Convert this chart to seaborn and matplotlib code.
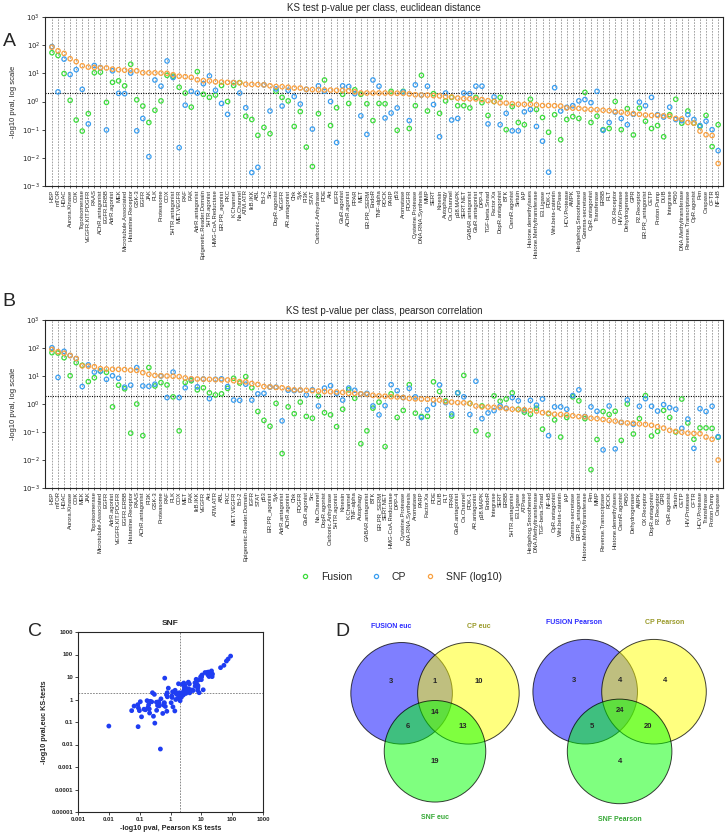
import pandas as pd
import seaborn as sns
import matplotlib
matplotlib.use("Agg")
from matplotlib import pyplot as plt
from matplotlib.patches import Circle
from matplotlib.lines import Line2D
from matplotlib.colors import to_rgba

# ---- panel A: euclidean distance, classes sorted by SNF ----
euc_classes = ["HSP", "mTOR", "HDAC", "Aurora.Kinase", "CDK", "Topoisomerase", "VEGFR.KIT.PDGFR", "RAAS", "AChR.antagonist", "EGFR.ERBB",
               "AdrR.agonist", "MEK", "Microtubule.Associated", "Histamine.Receptor", "GSK-3", "EGFR", "JAK", "PLK", "Proteasome", "COX",
               "5HTR.antagonist", "MET.VEGFR", "RAF", "FAK", "AdrR.antagonist", "Epigenetic.Reader.Domain", "5HTR.agonist", "HMG-CoA.Reductase", "ER.PR_agonist", "PKC",
               "K.Channel", "Na.Channel", "ATM.ATR", "IkB.IKK", "ABL", "Bcl-2", "Src", "DopR.agonist", "VEGFR", "AR.antagonist",
               "Chk", "Syk", "PI3K", "STAT", "Carbonic.Anhydrase", "PDE", "Akt", "IGFR", "GluR.agonist", "AChR.agonist",
               "PPAR", "MET", "ER.PR_SERM", "EndoR", "TNF-alpha", "ROCK", "PARP", "p53", "Aromatase", "PDGFR",
               "Cysteine.Protease", "DNA.RNA.Synthesis", "MMP", "SERT", "Kinesin", "Autophagy", "Ca.Channel", "p38.MAPK", "SERT.NET", "GABAR.antagonist",
               "GluR.antagonist", "DPP-4", "TGF-beta.Smad", "Factor.Xa", "DopR.antagonist", "BTK", "CannR.agonist", "Sirtuin", "IAP", "Histone.demethylases",
               "Histone.Methyltransferase", "E3.Ligase", "PDK-1", "Wnt.beta-catenin", "ATPase", "HCV.Protease", "AMPK", "Hedgehog.Smoothened", "Gamma-secretase", "OpR.antagonist",
               "Transferase", "ERBB", "FLT", "OX.Receptor", "HIV.Protease", "Dehydrogenase", "GPR", "P2.Receptor", "ER.PR_antagonist", "CETP",
               "Proton.Pump", "DUB", "Integrase", "P450", "DNA.Methyltransferase", "Reverse.Transcriptase", "OpR.agonist", "Pim", "Caspase", "CFTR",
               "NF-kB"]
euc_fusion = [54, 43, 9.8, 1.1, 0.22, 0.089, 0.37, 10.5, 11, 0.93,
              4.8, 5.4, 3.6, 21, 1.15, 0.69, 0.18, 0.49, 1.05, 8.5,
              7.9, 3.2, 2.0, 0.63, 11.5, 1.8, 1.4, 1.7, 3.7, 1.0,
              3.7, 4.7, 0.3, 0.23, 0.063, 0.12, 0.072, 2.3, 1.4, 1.05,
              0.13, 0.44, 0.024, 0.0049, 0.37, 5.8, 0.14, 0.6, 1.8, 0.85,
              2.6, 1.8, 0.83, 0.21, 0.85, 0.83, 2.3, 0.095, 2.3, 0.11,
              0.71, 8.5, 0.46, 1.9, 0.38, 1.05, 1.4, 0.71, 0.71, 0.59,
              1.4, 0.91, 0.32, 1.0, 1.4, 0.1, 0.66, 0.18, 0.15, 1.2,
              0.52, 0.27, 0.081, 0.34, 0.044, 0.23, 0.29, 0.25, 2.1, 0.18,
              0.3, 0.1, 0.11, 1.0, 0.1, 0.56, 0.065, 0.58, 0.2, 0.11,
              0.14, 0.056, 0.34, 1.2, 0.17, 0.46, 0.17, 0.13, 0.32, 0.025,
              0.15]
euc_cp = [89, 2.2, 32, 9.1, 13.5, 2.7, 0.16, 19, 16, 0.098,
          12.3, 1.95, 1.9, 10.2, 0.091, 0.25, 0.011, 5.8, 3.5, 27.5,
          7.1, 0.023, 0.74, 2.3, 2.0, 4.3, 8.1, 2.5, 0.85, 0.35,
          4.7, 2.0, 0.6, 0.003, 0.0046, 3.9, 0.46, 2.8, 0.69, 2.5,
          1.5, 0.81, 2.7, 0.105, 3.6, 2.3, 1.0, 0.035, 3.6, 3.4,
          1.9, 0.31, 0.068, 5.8, 3.5, 0.26, 0.39, 0.59, 2.2, 0.21,
          3.9, 1.7, 3.5, 0.78, 0.056, 2.0, 0.22, 0.25, 2.0, 1.9,
          3.5, 3.5, 0.16, 1.45, 0.15, 0.38, 0.091, 0.091, 0.43, 0.52,
          0.13, 0.039, 0.0031, 3.1, 0.46, 0.62, 0.71, 1.05, 1.17, 0.91,
          2.3, 0.095, 0.18, 0.42, 0.25, 0.15, 0.35, 0.95, 0.71, 1.4,
          0.34, 0.28, 0.63, 0.23, 0.21, 0.34, 0.23, 0.14, 0.2, 0.1,
          0.018]
euc_snf = [85, 63, 51, 33, 26, 18.6, 16.6, 16.2, 15.8, 15.5,
           14.1, 13.5, 12.9, 12.6, 12.3, 10.5, 10.4, 10.4, 10.2, 10.0,
           8.9, 7.9, 7.6, 7.2, 5.9, 5.5, 5.4, 5.0, 4.9, 4.8,
           4.7, 4.6, 4.1, 4.05, 4.0, 3.9, 3.6, 3.4, 3.35, 3.2,
           3.0, 3.0, 2.7, 2.65, 2.6, 2.57, 2.55, 2.5, 2.5, 2.4,
           2.2, 2.0, 2.0, 2.0, 2.0, 2.0, 1.98, 1.97, 1.96, 1.86,
           1.74, 1.70, 1.69, 1.62, 1.58, 1.48, 1.45, 1.32, 1.26, 1.25,
           1.23, 1.17, 1.07, 1.0, 0.89, 0.88, 0.83, 0.80, 0.79, 0.79,
           0.76, 0.72, 0.72, 0.71, 0.69, 0.59, 0.58, 0.57, 0.54, 0.52,
           0.51, 0.49, 0.47, 0.44, 0.42, 0.38, 0.37, 0.35, 0.33, 0.32,
           0.32, 0.31, 0.30, 0.25, 0.24, 0.18, 0.17, 0.089, 0.066, 0.062,
           0.0063]

# ---- panel B: pearson correlation ----
pea_classes = ["HSP", "mTOR", "HDAC", "Aurora.Kinase", "CDK", "MEK", "JAK", "Topoisomerase", "Microtubule.Associated", "EGFR",
               "AdrR.agonist", "VEGFR.KIT.PDGFR", "EGFR.ERBB", "Histamine.Receptor", "RAAS", "AChR.antagonist", "PI3K", "GSK-3", "Proteasome", "RAF",
               "PLK", "COX", "MET", "FAK", "IkB.IKK", "VEGFR", "Akt", "ATM.ATR", "ABL", "PKC",
               "MET.VEGFR", "Bcl-2", "Epigenetic.Reader.Domain", "IGFR", "STAT", "p53", "ER.PR_agonist", "Syk", "AdrR.antagonist", "AChR.agonist",
               "Chk", "PDGFR", "GluR.agonist", "Src", "Na.Channel", "DopR.agonist", "Carbonic.Anhydrase", "5HTR.agonist", "Kinesin", "K.Channel",
               "TNF-alpha", "Autophagy", "GABAR.antagonist", "BTK", "ER.PR_SERM", "SERT.NET", "HMG-CoA.Reductase", "DPP-4", "Cysteine.Protease", "DNA.RNA.Synthesis",
               "Aromatase", "PARP", "Factor.Xa", "PDE", "DUB", "FLT", "PPAR", "GluR.antagonist", "Ca.Channel", "PDK-1",
               "AR.antagonist", "p38.MAPK", "EndoR", "Integrase", "SERT", "ERBB", "5HTR.antagonist", "E3.Ligase", "ATPase", "Hedgehog.Smoothened",
               "DNA.Methyltransferase", "TGF-beta.Smad", "NF-kB", "OpR.antagonist", "Wnt.beta-catenin", "IAP", "Gamma-secretase", "ER.PR_antagonist", "Histone.Methyltransferase", "Pim",
               "MMP", "Reverse.Transcriptase", "ROCK", "Histone.demethylases", "CannR.agonist", "P450", "Dehydrogenase", "AMPK", "OX.Receptor", "DopR.antagonist",
               "P2.Receptor", "GPR", "OpR.agonist", "Sirtuin", "CETP", "HIV.Protease", "CFTR", "HCV.Protease", "Transferase", "Proton.Pump",
               "Caspase"]
pea_fusion = [68, 66, 45, 10.2, 30, 24, 6.3, 8.7, 15, 13.5,
              0.79, 4.7, 3.5, 0.091, 1.0, 0.074, 20, 4.4, 5.8, 4.8,
              1.8, 0.11, 5.9, 6.8, 3.2, 3.8, 2.5, 2.1, 2.3, 3.6,
              8.3, 5.6, 9.5, 3.8, 0.54, 0.26, 0.16, 1.05, 0.017, 0.79,
              0.45, 1.17, 0.36, 0.31, 1.95, 0.49, 0.41, 0.155, 0.65, 3.2,
              1.6, 0.038, 0.11, 0.71, 1.17, 0.03, 2.3, 0.33, 0.59, 4.9,
              0.47, 0.36, 0.36, 6.2, 2.8, 1.3, 0.37, 2.5, 10.5, 1.05,
              0.11, 0.85, 0.079, 1.95, 1.26, 1.5, 2.5, 0.65, 0.51, 0.43,
              0.71, 0.126, 0.45, 0.27, 0.066, 0.33, 1.8, 1.3, 0.3, 0.0045,
              0.054, 0.54, 0.42, 0.55, 0.05, 1.0, 0.085, 0.3, 2.0, 0.072,
              0.105, 0.59, 0.33, 0.1, 1.5, 0.21, 0.055, 0.14, 0.14, 0.135,
              0.065]
pea_cp = [102, 8.9, 76, 54, 42, 4.2, 25, 13.8, 15, 7.6,
          10.2, 8.3, 4.0, 4.7, 20, 4.4, 4.3, 5.1, 10, 1.7,
          13.8, 1.7, 3.8, 7.6, 4.1, 7.8, 1.55, 7.6, 7.9, 4.2,
          1.38, 1.35, 5.1, 1.38, 2.3, 2.4, 4.0, 4.0, 0.25, 3.1,
          3.0, 3.1, 2.1, 3.2, 0.85, 3.7, 4.5, 2.4, 1.38, 3.7,
          3.1, 2.3, 2.4, 0.85, 0.41, 0.87, 4.9, 3.0, 1.7, 3.6,
          1.8, 0.33, 0.62, 0.98, 4.8, 1.12, 0.44, 2.5, 1.8, 0.42,
          6.5, 0.3, 0.48, 0.58, 0.85, 0.71, 1.7, 1.3, 0.59, 1.35,
          0.91, 1.5, 0.074, 0.79, 0.79, 0.65, 2.0, 3.2, 0.36, 0.79,
          0.55, 0.023, 0.85, 0.025, 0.22, 1.4, 0.19, 0.83, 1.55, 0.83,
          0.56, 0.95, 0.74, 0.65, 0.135, 0.29, 0.026, 0.68, 0.54, 0.83,
          0.068]
pea_snf = [89, 74, 65, 54, 42, 23, 22.4, 21.4, 18.2, 17.8,
           17.4, 17.3, 17, 16.2, 15.8, 13.2, 11.5, 10.5, 10.2, 10.0,
           9.8, 9.5, 8.5, 7.9, 7.8, 7.7, 7.6, 7.4, 7.3, 7.2,
           6.8, 6.3, 6.2, 5.4, 5.0, 4.2, 4.1, 3.9, 3.8, 3.5,
           3.2, 3.16, 3.1, 3.0, 2.9, 2.8, 2.75, 2.7, 2.6, 2.4,
           2.38, 2.3, 2.24, 2.05, 1.95, 1.9, 1.82, 1.78, 1.7, 1.58,
           1.52, 1.5, 1.48, 1.41, 1.38, 1.2, 1.17, 1.12, 1.1, 1.05,
           0.85, 0.79, 0.78, 0.76, 0.74, 0.68, 0.65, 0.63, 0.62, 0.59,
           0.56, 0.49, 0.47, 0.43, 0.42, 0.41, 0.38, 0.355, 0.35, 0.31,
           0.30, 0.28, 0.26, 0.245, 0.22, 0.21, 0.205, 0.195, 0.186, 0.174,
           0.155, 0.138, 0.115, 0.105, 0.098, 0.091, 0.089, 0.087, 0.066, 0.055,
           0.010]

# ---- panel D: venn counts (F, F&CP, CP, F&SNF, all, CP&SNF, SNF) ----
venn_euc_counts = [3, 1, 10, 6, 14, 13, 19]
venn_pea_counts = [3, 4, 4, 5, 24, 20, 4]
venn_euc_names = ["FUSION euc", "CP euc", "SNF euc"]
venn_pea_names = ["FUSION Pearson", "CP Pearson", "SNF Pearson"]

methods = ["Fusion", "CP", "SNF (log10)"]
palette = {"Fusion": "#3ddc3d", "CP": "#3a9ef0", "SNF (log10)": "#f8a040"}

sns.set_style("ticks")
plt.rcParams["font.family"] = ["Liberation Sans", "DejaVu Sans"]
plt.rcParams["axes.linewidth"] = 0.8

W, H = 728, 835
fig = plt.figure(figsize=(W / 100, H / 100), dpi=100)


def px_axes(l, t, r, b):
    return fig.add_axes([l / W, 1 - b / H, (r - l) / W, (b - t) / H])


def class_panel(ax, classes, fusion, cp, snf, title):
    df = pd.DataFrame({"class": classes, "Fusion": fusion, "CP": cp, "SNF (log10)": snf})
    long = df.melt(id_vars="class", var_name="method", value_name="pval")
    ax.axhline(2, color="black", ls=(0, (1, 1.2)), lw=0.8, zorder=1)
    sns.scatterplot(data=long, x="class", y="pval", hue="method", palette=palette,
                    s=10, ax=ax, legend=False, zorder=3)
    for coll in ax.collections:
        coll.set_edgecolors(coll.get_facecolors())
        coll.set_facecolors("none")
        coll.set_linewidths(0.9)
    ax.set_yscale("log")
    ax.set_ylim(1e-3, 1e3)
    ax.set_xlim(-1.15, len(classes) - 0.2)
    ax.set_yticks([10.0 ** k for k in range(-3, 4)],
                  [f"$10^{{{k}}}$" for k in range(-3, 4)])
    ax.yaxis.set_minor_locator(matplotlib.ticker.NullLocator())
    ax.tick_params(axis="y", labelsize=5, length=2, width=0.6, pad=1.5)
    ax.tick_params(axis="x", labelrotation=90, labelsize=4.2, length=1.5, width=0.5, pad=1)
    ax.grid(axis="x", color="#8a8a8a", ls=(0, (2.2, 1.6)), lw=0.55)
    ax.set_axisbelow(True)
    ax.set_xlabel("")
    ax.set_ylabel("-log10 pval, log scale", fontsize=5.5, labelpad=4)
    ax.set_title(title, fontsize=7, pad=4)


axa = px_axes(45, 17, 723, 186)
class_panel(axa, euc_classes, euc_fusion, euc_cp, euc_snf,
            "KS test p-value per class, euclidean distance")
axb = px_axes(45, 320, 723, 488)
class_panel(axb, pea_classes, pea_fusion, pea_cp, pea_snf,
            "KS test p-value per class, pearson correlation")

handles = [Line2D([], [], marker="o", ls="", mfc="none", mec=palette[m], ms=3, mew=0.9)
           for m in methods]
fig.legend(handles, methods, loc="center", bbox_to_anchor=(401 / W, 1 - 577 / H),
           ncol=3, frameon=False, fontsize=7.5, columnspacing=1.8,
           handletextpad=1.0, handlelength=1.0)

# ---- panel C: SNF euclidean vs pearson ----
snf_df = pd.merge(pd.DataFrame({"class": euc_classes, "euc": euc_snf}),
                  pd.DataFrame({"class": pea_classes, "pea": pea_snf}), on="class")
axc = px_axes(78, 632, 263, 812)
axc.axhline(2, color="#777777", ls=(0, (2, 1.5)), lw=0.6, zorder=1)
axc.axvline(2, color="#777777", ls=(0, (2, 1.5)), lw=0.6, zorder=1)
sns.scatterplot(data=snf_df, x="pea", y="euc", color="#1f3df2", s=12,
                edgecolor="none", ax=axc, zorder=3)
axc.set_xscale("log")
axc.set_yscale("log")
axc.set_xlim(1e-3, 1e3)
axc.set_ylim(1e-5, 1e3)
xt = [0.001, 0.01, 0.1, 1, 10, 100, 1000]
yt = [0.00001, 0.0001, 0.001, 0.01, 0.1, 1, 10, 100, 1000]
axc.set_xticks(xt, ["0.001", "0.01", "0.1", "1", "10", "100", "1000"])
axc.set_yticks(yt, ["0.00001", "0.0001", "0.001", "0.01", "0.1", "1", "10", "100", "1000"])
axc.minorticks_off()
axc.tick_params(labelsize=4.3, length=2, width=0.6, pad=1.5)
for lab in axc.get_xticklabels() + axc.get_yticklabels():
    lab.set_fontweight("bold")
axc.set_xlabel("-log10 pval, Pearson KS tests", fontsize=5.2, fontweight="bold", labelpad=2)
axc.set_ylabel("-log10 pval,euc KS-tests", fontsize=5.2, fontweight="bold", labelpad=2)
axc.set_title("SNF", fontsize=6, fontweight="bold", pad=5)

# ---- panel D: venn diagrams ----
axd = px_axes(330, 580, 728, 835)
axd.set_xlim(0, 398)
axd.set_ylim(0, 255)
axd.set_aspect("equal")
axd.axis("off")

venn_fill = ["#0000ff", "#ffff00", "#00ff00"]
venn_text = ["#2b2bff", "#9a9a2a", "#35a835"]
circle_offsets = [(-0.5, 0.0), (0.5, 0.0), (0.0, -0.868)]
region_offsets = [(-0.66, 0.17), (0, 0.17), (0.66, 0.17), (-0.41, -0.50),
                  (0, -0.28), (0.41, -0.50), (0, -1.02)]
label_offsets = [(-0.66, 1.0), (0.66, 1.0), (0.0, -1.86)]


def venn(cx, cy, unit, counts, names):
    for (dx, dy), col in zip(circle_offsets, venn_fill):
        axd.add_patch(Circle((cx + dx * unit, cy + dy * unit), 0.76 * unit,
                             fc=to_rgba(col, 0.5), ec=(0, 0, 0, 0.75), lw=0.7))
    for (dx, dy), n in zip(region_offsets, counts):
        axd.text(cx + dx * unit, cy + dy * unit, str(n), ha="center", va="center",
                 fontsize=5.5, fontweight="bold")
    for (dx, dy), name, col in zip(label_offsets, names, venn_text):
        axd.text(cx + dx * unit, cy + dy * unit, name, ha="center", va="center",
                 fontsize=5, fontweight="bold", color=col)


venn(105, 141.7, 66.8, venn_euc_counts, venn_euc_names)
venn(289.6, 143.3, 68.8, venn_pea_counts, venn_pea_names)

# panel letters
for letter, x, y in [("A", 9, 42), ("B", 9, 302), ("C", 35, 632), ("D", 342, 632)]:
    fig.text(x / W, 1 - y / H, letter, fontsize=14, ha="center", va="center")

fig.savefig("out.png", dpi=100, facecolor="white")
